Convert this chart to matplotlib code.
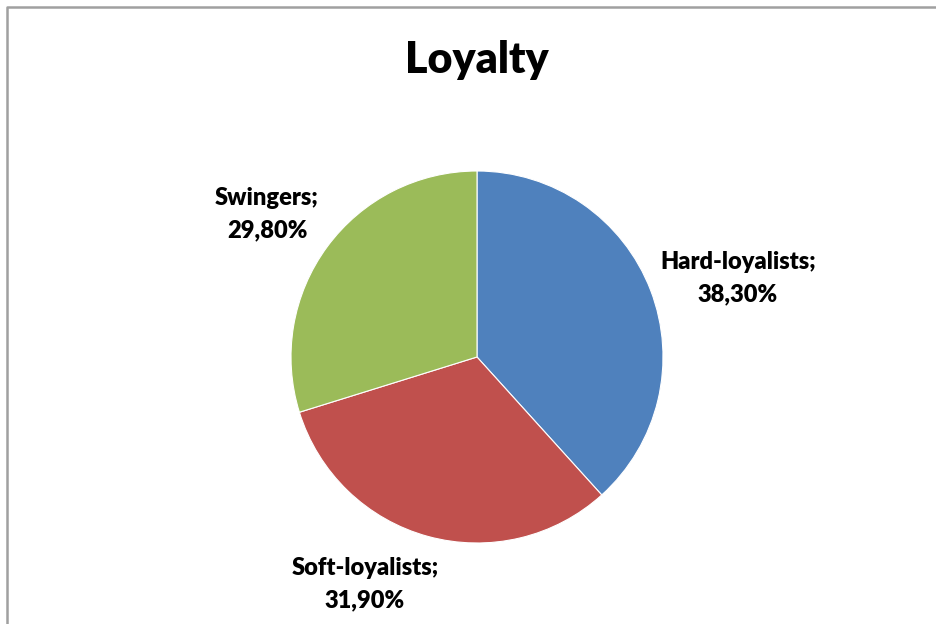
import matplotlib
matplotlib.use("Agg")
import matplotlib.pyplot as plt

# data
categories = ["Hard-loyalists", "Soft-loyalists", "Swingers"]
shares = [38.3, 31.9, 29.8]
colors = ["#4F81BD", "#C0504D", "#9BBB59"]

W, H = 936, 624
plt.rcParams['font.family'] = ['Lato', 'DejaVu Sans']

fig = plt.figure(figsize=(W / 100, H / 100), dpi=100)
ax = fig.add_axes([0, 0, 1, 1])

# chart frame (cropped at right/bottom)
ax.plot([6.5, 6.5, W + 5], [-5, H - 6.5, H - 6.5], color="#A0A0A0", lw=1.8, solid_capstyle='butt')

cx, cy, r = 477, H - 357, 186
ax.pie(shares, colors=colors, startangle=90, counterclock=False,
       center=(cx, cy), radius=r, frame=True,
       wedgeprops=dict(edgecolor="white", linewidth=0.8))
ax.set_xlim(0, W)
ax.set_ylim(0, H)
ax.axis('off')
ax.set_aspect('auto')

# label positions (pixels from top-left)
label_pos = [(738, 278), (365, 584), (267, 214)]
for name, val, (lx, ly) in zip(categories, shares, label_pos):
    txt = f"{name};\n{val:.2f}%".replace(".", ",")
    ax.text(lx, H - ly, txt, ha='center', va='center', fontsize=17,
            fontweight='heavy', linespacing=1.6, color="black")

ax.text(cx, H - 60, "Loyalty", ha='center', va='center', fontsize=31,
        fontweight='heavy', color="black")

fig.savefig("out.png", dpi=100)
